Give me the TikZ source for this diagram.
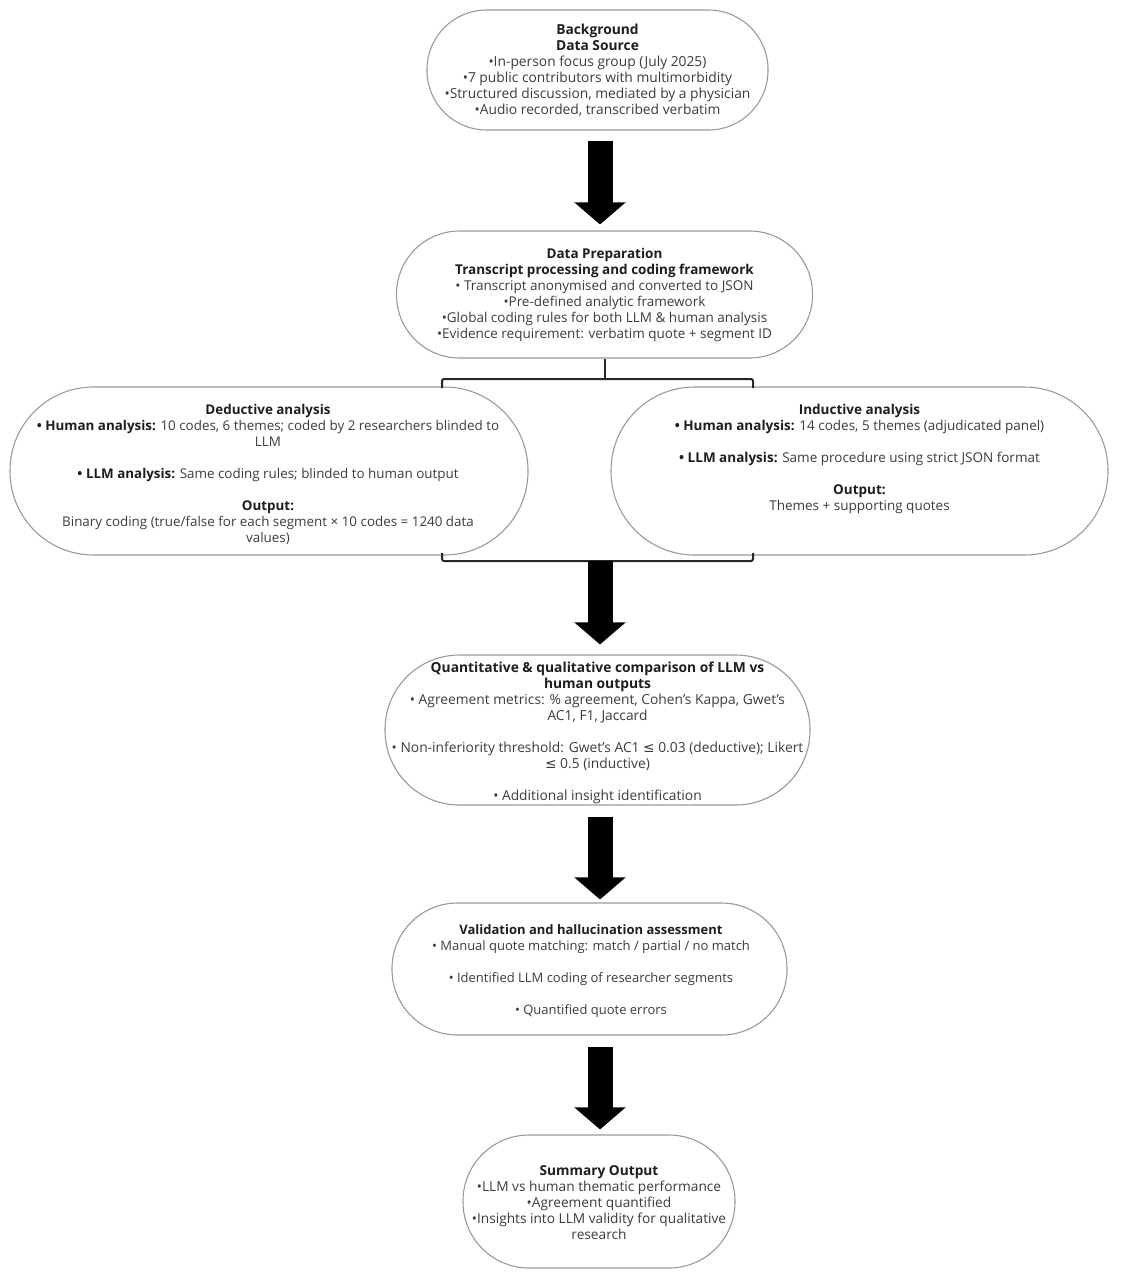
\documentclass[tikz,border=0pt]{standalone}
\usepackage{fontspec}
\setmainfont{Open Sans}
\newfontfamily\symfont{DejaVu Sans}
\usetikzlibrary{arrows.meta}
\definecolor{boxgray}{HTML}{9A9A9A}
\definecolor{txtc}{HTML}{3C3C3C}
\definecolor{ttlc}{HTML}{1E1E1E}
\newcommand\boxhead[1]{\textbf{\color{ttlc}#1}}
\begin{document}
\begin{tikzpicture}[x=1pt,y=-1pt,
  pill/.style={draw=boxgray, line width=1.1pt, fill=white, inner sep=0pt},
  boxtext/.style={align=center, text=txtc, font=\fontsize{#1}{16}\selectfont, inner sep=0pt},
  boxtext/.default=13,
  bigarrow/.style={line width=25pt, draw=black, -{Triangle[width=50pt,length=22pt]}},
  bracket/.style={draw=black!85, line width=2pt, rounded corners=2pt}]
\fill[white] (0,0) rectangle (1122,1280);
\useasboundingbox (0,0) rectangle (1122,1280);

% boxes
\node[pill, minimum width=341pt, minimum height=120pt, rounded corners=59.5pt] (bg) at (597.5,70) {};
\node[pill, minimum width=416pt, minimum height=127pt, rounded corners=63pt] (prep) at (604.5,294.5) {};
\node[pill, minimum width=518pt, minimum height=168pt, rounded corners=83.5pt] (ded) at (269,471) {};
\node[pill, minimum width=497pt, minimum height=168pt, rounded corners=83.5pt] (ind) at (859.5,471) {};
\node[pill, minimum width=425pt, minimum height=150pt, rounded corners=74.5pt] (comp) at (597.5,730) {};
\node[pill, minimum width=395pt, minimum height=132pt, rounded corners=65.5pt] (val) at (589.5,969) {};
\node[pill, minimum width=272pt, minimum height=133pt, rounded corners=66pt] (summ) at (599,1201.5) {};

% texts
\node[boxtext=13.8] (bgtxt) at (597.5,70) {\boxhead{Background}\\
\boxhead{Data Source}\\
•In-person focus group (July 2025)\\
•7 public contributors with multimorbidity\\
•Structured discussion, mediated by a physician\\
•Audio recorded, transcribed verbatim};

\node[boxtext=13.5] (preptxt) at (604.5,294.5) {\boxhead{Data Preparation}\\
\boxhead{Transcript processing and coding framework}\\
• Transcript anonymised and converted to JSON\\
•Pre-defined analytic framework\\
•Global coding rules for both LLM \& human analysis\\
•Evidence requirement: verbatim quote + segment ID};

\node[boxtext=13.4] (dedtxt) at (268,474) {\boxhead{Deductive analysis}\\
\boxhead{• Human analysis:} 10 codes, 6 themes; coded by 2 researchers blinded to\\
LLM\\[16pt]
\boxhead{• LLM analysis:} Same coding rules; blinded to human output\\[16pt]
\boxhead{Output:}\\
Binary coding (true/false for each segment × 10 codes = 1240 data\\
values)};

\node[boxtext=13.5] (indtxt) at (859.5,459) {\boxhead{Inductive analysis}\\
\boxhead{• Human analysis:} 14 codes, 5 themes (adjudicated panel)\\[16pt]
\boxhead{• LLM analysis:} Same procedure using strict JSON format\\[16pt]
\boxhead{Output:}\\
Themes + supporting quotes};

\node[boxtext=13.8] (comptxt) at (597.5,733) {\boxhead{Quantitative \& qualitative comparison of LLM vs}\\
\boxhead{human outputs}\\
• Agreement metrics: \% agreement, Cohen's Kappa, Gwet's\\
AC1, F1, Jaccard\\[16pt]
• Non-inferiority threshold: Gwet's AC1 {\symfont ≤} 0.03 (deductive); Likert\\
{\symfont ≤} 0.5 (inductive)\\[16pt]
• Additional insight identification};

\node[boxtext=13] (valtxt) at (591,971) {\boxhead{Validation and hallucination assessment}\\
• Manual quote matching: match / partial / no match\\[16pt]
• Identified LLM coding of researcher segments\\[16pt]
• Quantified quote errors};

\node[boxtext=13.7] (summtxt) at (599,1203) {\boxhead{Summary Output}\\
•LLM vs human thematic performance\\
•Agreement quantified\\
•Insights into LLM validity for qualitative\\
research};

% brackets
\coordinate (axis) at (600,0);
\coordinate (tl) at (442,379);
\coordinate (tr) at (753,379);
\coordinate (bl) at (442,561);
\coordinate (br) at (753,561);
\coordinate (bm) at (600,561);
\draw[bracket] (prep.south) -- (prep.south |- tl);
\draw[bracket] (442,388) -- (tl) -- (tr) -- (753,388);
\draw[bracket] (442,553) -- (bl) -- (br) -- (753,553);

% arrows
\draw[bigarrow, shorten <=10pt, shorten >=6pt] (bg.south -| axis) -- (prep.north -| axis);
\draw[bigarrow, shorten >=10pt] (bm) -- (comp.north -| axis);
\draw[bigarrow, shorten <=11pt, shorten >=3pt] (comp.south -| axis) -- (val.north -| axis);
\draw[bigarrow, shorten <=11pt, shorten >=5pt] (val.south -| axis) -- (summ.north -| axis);
\end{tikzpicture}
\end{document}
